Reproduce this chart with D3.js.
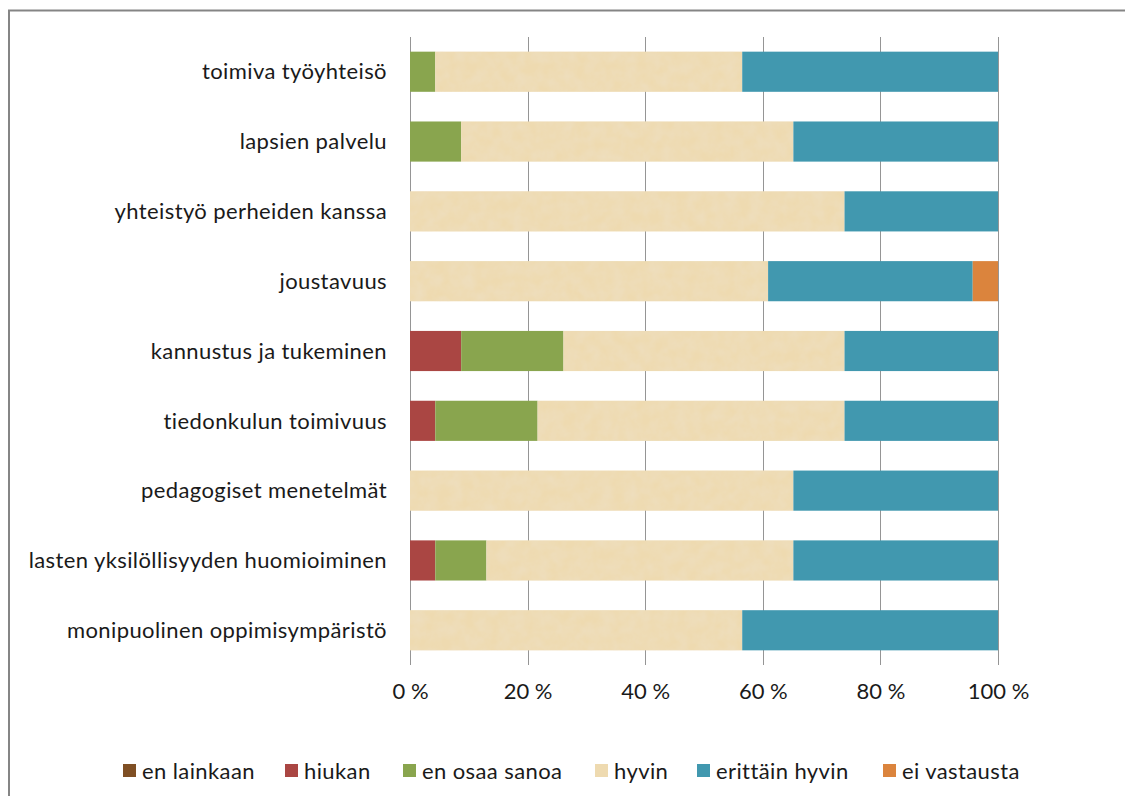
<!DOCTYPE html>
<html>
<head>
<meta charset="utf-8">
<script src="https://d3js.org/d3.v7.min.js"></script>
<style>
  html, body { margin: 0; padding: 0; background: #fff; }
  svg { display: block; font-family: Lato, "Open Sans", sans-serif; }
</style>
</head>
<body>
<svg id="chart" width="1125" height="796"></svg>
<script>
// categories top to bottom
var categories = [
  "toimiva työyhteisö",
  "lapsien palvelu",
  "yhteistyö perheiden kanssa",
  "joustavuus",
  "kannustus ja tukeminen",
  "tiedonkulun toimivuus",
  "pedagogiset menetelmät",
  "lasten yksilöllisyyden huomioiminen",
  "monipuolinen oppimisympäristö"
];
var seriesNames = ["en lainkaan", "hiukan", "en osaa sanoa", "hyvin", "erittäin hyvin", "ei vastausta"];
var seriesColors = ["#7f4f24", "#aa4643", "#89a54e", "#eedab0", "#4198af", "#db843d"];

// percentages per series, same order as categories
var enLainkaan    = [0, 0, 0, 0, 0, 0, 0, 0, 0];
var hiukan        = [0, 0, 0, 0, 8.7, 4.3, 0, 4.3, 0];
var enOsaaSanoa   = [4.3, 8.7, 0, 0, 17.4, 17.4, 0, 8.7, 0];
var hyvin         = [52.2, 56.5, 73.9, 60.9, 47.8, 52.2, 65.2, 52.2, 56.5];
var erittainHyvin = [43.5, 34.8, 26.1, 34.8, 26.1, 26.1, 34.8, 34.8, 43.5];
var eiVastausta   = [0, 0, 0, 4.3, 0, 0, 0, 0, 0];

var xTicks = [0, 20, 40, 60, 80, 100];

var rows = categories.map(function(c, i) {
  return {
    cat: c,
    "en lainkaan": enLainkaan[i],
    "hiukan": hiukan[i],
    "en osaa sanoa": enOsaaSanoa[i],
    "hyvin": hyvin[i],
    "erittäin hyvin": erittainHyvin[i],
    "ei vastausta": eiVastausta[i]
  };
});

var svg = d3.select("#chart");
var fontSize = 22, spacing = 0.4;

// textured fill for "hyvin"
var defs = svg.append("defs");
var filt = defs.append("filter").attr("id", "paper")
  .attr("x", 0).attr("y", 0).attr("width", 1).attr("height", 1);
filt.append("feTurbulence").attr("type", "fractalNoise")
  .attr("baseFrequency", "0.08").attr("numOctaves", 3).attr("seed", 4).attr("result", "noise");
filt.append("feColorMatrix").attr("in", "noise").attr("type", "matrix")
  .attr("values", "0 0 0 0 0.85  0 0 0 0 0.76  0 0 0 0 0.58  0.75 0 0 0 -0.18")
  .attr("result", "spots");
filt.append("feComposite").attr("in", "spots").attr("in2", "SourceGraphic").attr("operator", "in").attr("result", "cut");
var merge = filt.append("feMerge");
merge.append("feMergeNode").attr("in", "SourceGraphic");
merge.append("feMergeNode").attr("in", "cut");

// chart frame
svg.append("rect")
  .attr("x", 9).attr("y", 10.5).attr("width", 1130).attr("height", 800)
  .attr("fill", "#fff").attr("stroke", "#858585").attr("stroke-width", 2);

var plotLeft = 410, plotRight = 998, plotTop = 37, plotBottom = 665;

var x = d3.scaleLinear().domain([0, 100]).range([plotLeft, plotRight]);
var y = d3.scaleBand().domain(categories).range([plotTop, plotBottom]).paddingInner(0.425).paddingOuter(0.21);

// gridlines
svg.append("g")
  .selectAll("line")
  .data(xTicks)
  .join("line")
  .attr("x1", function(d) { return Math.round(x(d)) + 0.5; })
  .attr("x2", function(d) { return Math.round(x(d)) + 0.5; })
  .attr("y1", plotTop).attr("y2", plotBottom)
  .attr("stroke", "#959595").attr("stroke-width", 1);

// stacked bars
var stack = d3.stack().keys(seriesNames);
var layers = stack(rows);

svg.append("g")
  .selectAll("g")
  .data(layers)
  .join("g")
  .attr("fill", function(d, i) { return seriesColors[i]; })
  .attr("filter", function(d) { return d.key === "hyvin" ? "url(#paper)" : null; })
  .selectAll("rect")
  .data(function(d) { return d.filter(function(p) { return p[1] - p[0] > 0; }); })
  .join("rect")
  .attr("x", function(d) { return x(d[0]); })
  .attr("width", function(d) { return x(d[1]) - x(d[0]); })
  .attr("y", function(d) { return y(d.data.cat); })
  .attr("height", y.bandwidth());

// category labels
svg.append("g")
  .selectAll("text")
  .data(categories)
  .join("text")
  .attr("x", 387)
  .attr("y", function(d) { return y(d) + y.bandwidth() / 2; })
  .attr("dy", "0.35em")
  .attr("text-anchor", "end")
  .attr("font-size", fontSize)
  .attr("letter-spacing", spacing)
  .attr("fill", "#1a1a1a")
  .text(function(d) { return d; });

// x axis labels
var xAxis = d3.axisBottom(x).tickValues(xTicks).tickSize(0).tickPadding(0)
  .tickFormat(function(d) { return d + " %"; });
var ax = svg.append("g").attr("transform", "translate(0," + 683 + ")").call(xAxis);
ax.select(".domain").remove();
ax.selectAll("text")
  .attr("font-family", "Lato, 'Open Sans', sans-serif")
  .attr("font-size", fontSize)
  .attr("fill", "#1a1a1a");

// legend
var legendX = [123, 285, 403, 595, 697, 883];
var legend = svg.append("g")
  .selectAll("g")
  .data(seriesNames)
  .join("g")
  .attr("transform", function(d, i) { return "translate(" + legendX[i] + ",764)"; });
legend.append("rect")
  .attr("width", 13).attr("height", 13)
  .attr("fill", function(d, i) { return seriesColors[i]; });
legend.append("text")
  .attr("x", 19).attr("y", 7).attr("dy", "0.35em")
  .attr("font-size", fontSize).attr("letter-spacing", spacing).attr("fill", "#1a1a1a")
  .text(function(d) { return d; });
</script>
</body>
</html>
